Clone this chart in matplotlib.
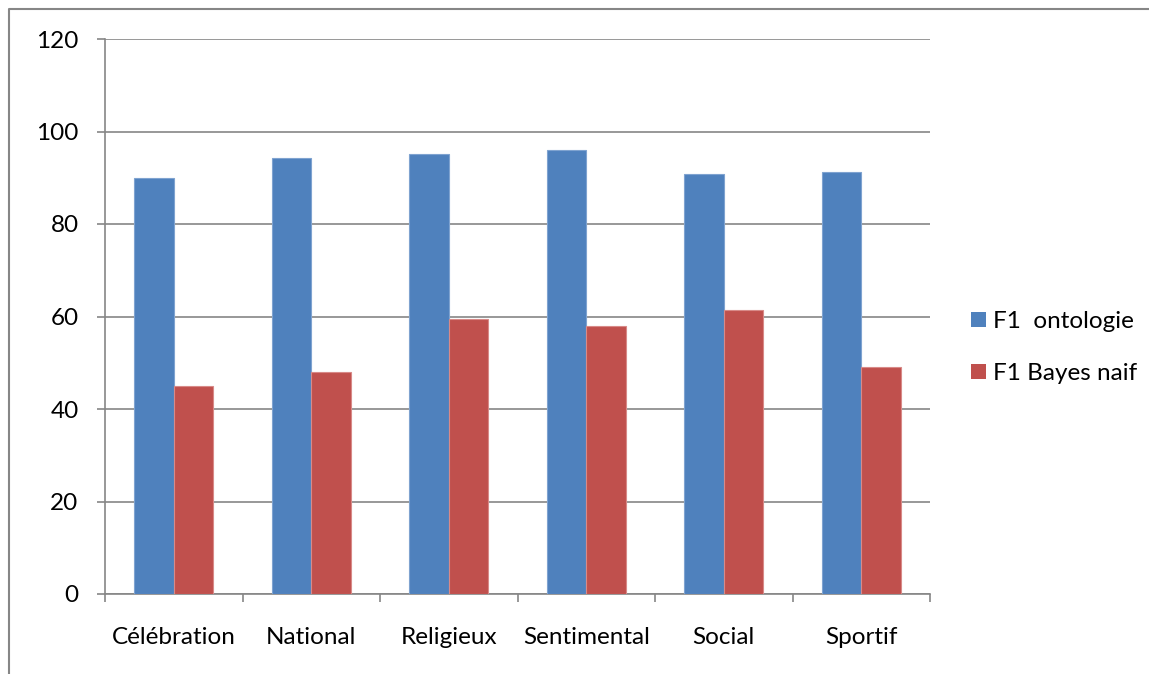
import matplotlib
matplotlib.use("Agg")
import matplotlib.pyplot as plt
from matplotlib.lines import Line2D
from matplotlib.patches import Patch
import numpy as np

plt.rcParams['font.family'] = ['Lato', 'DejaVu Sans']

categories = ["Célébration", "National", "Religieux", "Sentimental", "Social", "Sportif"]
f1_ontologie = [90.0, 94.3, 95.1, 96.1, 90.9, 91.2]
f1_bayes = [44.9, 48.0, 59.4, 57.9, 61.4, 49.0]
series_labels = ["F1  ontologie", "F1 Bayes naif"]
y_ticks = [0, 20, 40, 60, 80, 100, 120]

blue = "#4F81BD"
red = "#C0504D"
grid_gray = "#868686"
fs = 17.5

W, H = 1149, 674
fig = plt.figure(figsize=(W / 100, H / 100), dpi=100)
ax = fig.add_axes([105 / W, 1 - 594 / H, (930 - 105) / W, (594 - 39) / H])

x = np.arange(len(categories))
bw = 1 / 3.5
ax.bar(x - bw / 2, f1_ontologie, width=bw, color=blue, edgecolor="#7FA3D0", linewidth=0.8, zorder=3)
ax.bar(x + bw / 2, f1_bayes, width=bw, color=red, edgecolor="#D88A88", linewidth=0.8, zorder=3)

ax.set_xlim(-0.5, len(categories) - 0.5)
ax.set_ylim(0, 120)
ax.set_yticks(y_ticks)
ax.yaxis.grid(True, color=grid_gray, linewidth=1.2, zorder=0)
ax.tick_params(axis='y', length=6, width=1.2, color=grid_gray, pad=13, labelsize=fs)

ax.set_xticks(x)
ax.set_xticklabels(categories)
ax.set_xticks(np.arange(len(categories) + 1) - 0.5, minor=True)
ax.tick_params(axis='x', which='major', length=0, pad=23.5, labelsize=fs)
ax.tick_params(axis='x', which='minor', length=6, width=1.2, color=grid_gray)

for side in ("top", "right"):
    ax.spines[side].set_visible(False)
for side in ("left", "bottom"):
    ax.spines[side].set_color(grid_gray)
    ax.spines[side].set_linewidth(1.2)

handles = [Patch(facecolor=blue), Patch(facecolor=red)]
ax.legend(handles, series_labels, loc='center left', bbox_to_anchor=(1.023, 0.444),
          frameon=False, fontsize=fs, handlelength=0.62, handleheight=0.62,
          handletextpad=0.3, labelspacing=1.27)

# outer chart border
fig.add_artist(Line2D([9 / W, 9 / W, 1], [0, 1 - 9 / H, 1 - 9 / H],
                      transform=fig.transFigure, color=grid_gray, linewidth=1.5))

fig.savefig("out.png", dpi=100)
